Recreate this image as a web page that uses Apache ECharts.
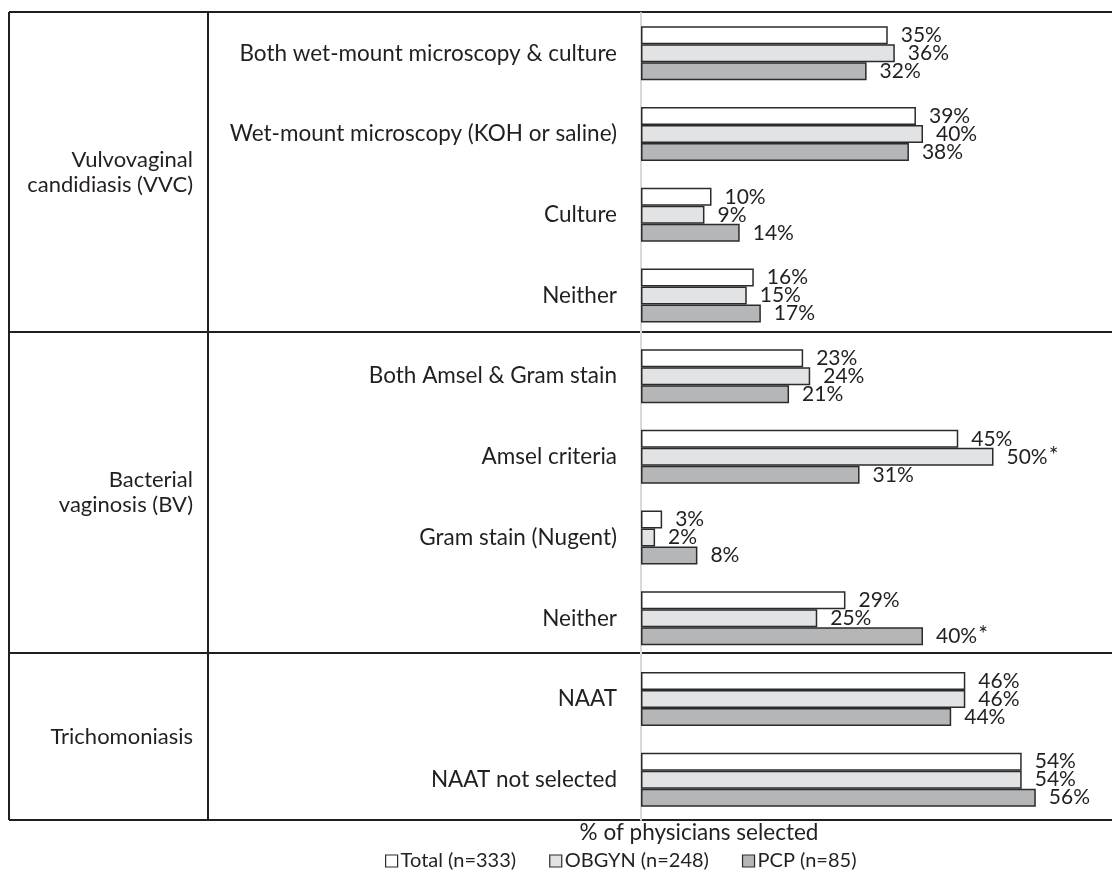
<!DOCTYPE html>
<html>
<head>
<meta charset="utf-8">
<script src="https://cdn.jsdelivr.net/npm/echarts@6/dist/echarts.min.js"></script>
<style>html,body{margin:0;padding:0;background:#fff}#c{width:1112px;height:894px}</style>
</head>
<body>
<div id="c"></div>
<script>
const categories = ['Both wet-mount microscopy & culture','Wet-mount microscopy (KOH or saline)','Culture','Neither','Both Amsel & Gram stain','Amsel criteria','Gram stain (Nugent)','Neither','NAAT','NAAT not selected'];
const groups = ['Vulvovaginal\ncandidiasis (VVC)','Bacterial\nvaginosis (BV)','Trichomoniasis'];
const seriesNames = ['Total (n=333)','OBGYN (n=248)','PCP (n=85)'];
const totalVals = [35,39,10,16,23,45,3,29,46,54];
const obgynVals = [36,40,9,15,24,50,2,25,46,54];
const pcpVals = [32,38,14,17,21,31,8,40,44,56];
const totalSig = [0,0,0,0,0,0,0,0,0,0];
const obgynSig = [0,0,0,0,0,1,0,0,0,0];
const pcpSig = [0,0,0,0,0,0,0,1,0,0];
const axisTitle = '% of physicians selected';

const FONT = 'Lato';
const TXT = '#231f20';
const fills = ['#ffffff','#e2e3e5','#b5b6b8'];
const vals = [totalVals, obgynVals, pcpVals];
const sigs = [totalSig, obgynSig, pcpSig];

const chart = echarts.init(document.getElementById('c'));
const series = seriesNames.map((n,si)=>({
  name:n, type:'bar', barWidth:18, barGap:'0%', barCategoryGap:'0%',
  data: vals[si], animation:false,
  itemStyle:{color:fills[si], borderColor:'#2b2b2b', borderWidth:1.5},
  label:{show:true, position:'right', distance:13, color:TXT, fontFamily:FONT, fontSize:21,
    formatter:p=> sigs[si][p.dataIndex] ? '{v|'+p.value+'%}{s|*}' : p.value+'%',
    rich:{v:{fontFamily:FONT,fontSize:21,color:TXT}, s:{fontFamily:FONT,fontSize:23,color:TXT,padding:[0,0,3,1]}}
  }
}));
chart.setOption({
  animation:false,
  grid:{left:641, right:48, top:13, bottom:74, containLabel:false},
  xAxis:{type:'value', min:0, max:60, show:false},
  yAxis:{type:'category', inverse:true, data:categories,
    axisLine:{show:true, lineStyle:{color:'#d9d9d9', width:2}},
    axisTick:{show:false}, splitLine:{show:false},
    axisLabel:{margin:24, color:TXT, fontFamily:FONT, fontSize:22.5}
  },
  legend:{top:846, left:380, icon:'rect', itemWidth:12, itemHeight:12, itemGap:33,
    textStyle:{fontFamily:FONT, fontSize:20, color:TXT, padding:[0,0,0,-2]},
    itemStyle:{borderColor:'#2b2b2b', borderWidth:1.2}, data:seriesNames},
  series
});

// table frame and group labels
const lineStyle = {stroke:'#231f20', lineWidth:2};
const yTop = 12, yBot = 820, xL = 9, xSep = 208, xR = 1112;
const bounds = [yTop, 332, 653, yBot];
const g = [];
bounds.forEach(y=>g.push({type:'line', shape:{x1:xL,y1:y,x2:xR,y2:y}, style:lineStyle}));
g.push({type:'line', shape:{x1:xL,y1:yTop,x2:xL,y2:yBot}, style:lineStyle});
g.push({type:'line', shape:{x1:xSep,y1:yTop,x2:xSep,y2:yBot}, style:lineStyle});
groups.forEach((t,i)=>{
  const cy = (bounds[i]+bounds[i+1])/2;
  g.push({type:'text', x:193, y:cy, style:{text:t, align:'right', verticalAlign:'middle', fontFamily:FONT, fontSize:22, fill:TXT, lineHeight:25}});
});
g.push({type:'text', x:699, y:833, style:{text:axisTitle, align:'center', verticalAlign:'middle', fontFamily:FONT, fontSize:22.5, fill:TXT}});
chart.setOption({graphic:{elements:g}});
</script>
</body>
</html>
